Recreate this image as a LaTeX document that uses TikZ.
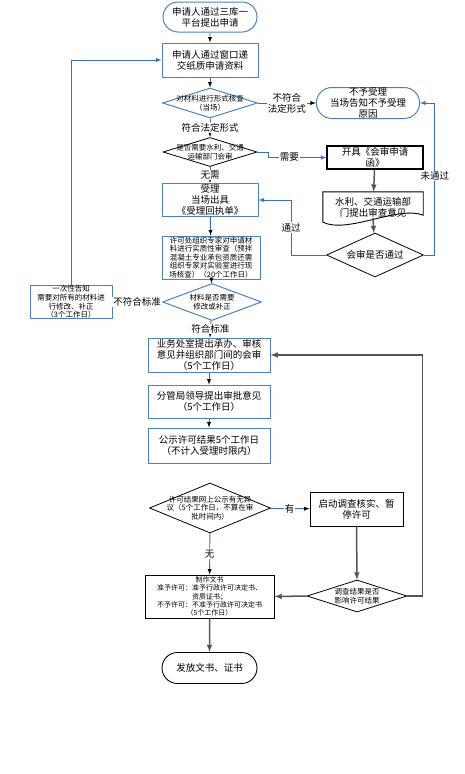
\documentclass[tikz,border=0pt]{standalone}
\usepackage{fontspec}
\setmainfont{Noto Sans CJK SC}
\usetikzlibrary{positioning}
\usetikzlibrary{calc}
\usetikzlibrary{shapes.geometric,shapes.misc}

\definecolor{lineblue}{HTML}{3A6FC0}
\definecolor{boxblue}{HTML}{4F81BD}
\definecolor{flowgray}{HTML}{555555}

\newcommand{\mainsize}{\fontsize{9.5}{11}\selectfont}
\newcommand{\smallsize}{\fontsize{7.5}{8.6}\selectfont}
\newcommand{\tinysize}{\fontsize{7}{8.2}\selectfont}

\begin{document}
\begin{tikzpicture}[x=1pt,y=-1pt,
  bluebox/.style={draw=boxblue,line width=1pt,rectangle,inner sep=0pt,align=center,font=\mainsize},
  blackbox/.style={draw=black,line width=0.9pt,rectangle,inner sep=0pt,align=center,font=\mainsize},
  blueoval/.style={draw=boxblue,line width=1pt,rounded rectangle,inner sep=0pt,align=center,font=\mainsize},
  blackoval/.style={draw=black,line width=0.9pt,rounded rectangle,inner sep=0pt,align=center,font=\mainsize},
  decide/.style={draw=black,line width=0.8pt,diamond,inner sep=0pt},
  bluedecide/.style={decide,draw=boxblue,line width=1pt},
  blueline/.style={draw=lineblue,line width=0.9pt},
  grayline/.style={draw=flowgray,line width=1.5pt},
  lbl/.style={fill=white,inner sep=1pt,align=center,font=\mainsize},
]
\useasboundingbox (0,0) rectangle (465,774);

% upper part
\node[blueoval,minimum width=94,minimum height=30](start) at (210,17){申请人通过三库一\\平台提出申请};
\node[bluebox,minimum width=96,minimum height=34](submit) at (210,60){申请人通过窗口递\\交纸质申请资料};
\node[bluedecide,minimum width=95,minimum height=30,
  label={[font=\smallsize,align=center]center:对材料进行形式核查\\（当场）}](check1) at (210,103){};
\node[blueoval,minimum width=97,minimum height=31](reject) at (368,103){不予受理\\当场告知不予受理\\原因};
\node[decide,minimum width=94,minimum height=29,
  label={[font=\smallsize,align=center]center:是否需要水利、交通\\运输部门会审}](check2) at (210,152){};
\node[blackbox,line width=1.2pt,minimum width=96,minimum height=23](letter) at (375,157.5){开具《会审申请\\函》};
\node[minimum width=100,minimum height=30,inner sep=0pt,align=center,font=\mainsize](opinion) at (373,207){水利、交通运输部\\门提出审查意见};
\draw[black,line width=0.9pt] (opinion.south west) -- (opinion.north west) -- (opinion.north east)
  -- ($(opinion.south east)+(0,-7)$) .. controls ($(opinion.south east)+(-25,-17)$) and ($(opinion.south west)+(25,12)$) .. (opinion.south west);
\node[decide,minimum width=97,minimum height=44,
  label={[font=\mainsize]center:会审是否通过}](meet) at (375,255){};
\node[bluebox,minimum width=96,minimum height=33](accept) at (210,200){受理\\当场出具\\《受理回执单》};
\node[bluebox,minimum width=98,minimum height=43,font=\smallsize](review) at (211,257.5){许可处组织专家对申请材\\料进行实质性审查（预拌\\混凝土专业承包资质还需\\组织专家对实验室进行现\\场核查）（20个工作日）};
\node[bluedecide,minimum width=99,minimum height=37,
  label={[font=\smallsize,align=center]center:材料是否需要\\修改或补正}](check3) at (212,302){};
\node[bluebox,minimum width=82,minimum height=32,font=\smallsize](notify) at (71,302){一次性告知\\需要对所有的材料进\\行修改、补正\\（3个工作日）};

% lower part
\node[bluebox,minimum width=122,minimum height=34](dept) at (209,355){业务处室提出承办、审核\\意见并组织部门间的会审\\（5个工作日）};
\node[bluebox,minimum width=122,minimum height=33](leader) at (209,401.5){分管局领导提出审批意见\\（5个工作日）};
\node[bluebox,minimum width=122,minimum height=35](publish) at (209,445.5){公示许可结果5个工作日\\（不计入受理时限内）};
\node[decide,minimum width=121,minimum height=50,
  label={[font=\smallsize,align=center]center:许可结果网上公示有无异\\议（5个工作日，不算在审\\批时间内）}](check4) at (210,508){};
\node[blackbox,minimum width=93,minimum height=34](investigate) at (356.5,509){启动调查核实、暂\\停许可};
\node[decide,minimum width=100,minimum height=32,
  label={[font=\smallsize,align=center]center:调查结果是否\\影响许可结果}](check5) at (357,596){};
\node[blackbox,minimum width=129,minimum height=43,font=\tinysize](make) at (209.5,596.5){制作文书\\准予许可：准予行政许可决定书、\\资质证书；\\不予许可：不准予行政许可决定书\\（5个工作日）};
\node[blackoval,minimum width=95,minimum height=31](issue) at (209.5,668){发放文书、证书};

% connectors
\path[blueline]
(start) edge[-latex] (submit)
(submit) edge[-latex] (check1)
(check1) edge[-latex] node[lbl]{不符合\\法定形式} (reject)
(check1) edge[-latex] node[lbl]{符合法定形式} (check2)
(check2) edge[-latex] node[lbl]{无需} (accept)
(accept) edge[-latex] (review)
(review) edge[-latex] (check3)
(check3) edge[-latex] node[lbl]{不符合标准} (notify)
(check3) edge[-latex] node[lbl]{符合标准} (dept)
(dept) edge[-latex] (leader)
(leader) edge[-latex] (publish)
(check4) edge[-latex] node[lbl]{有} (investigate)
(check4) edge[-latex] node[lbl]{无} (make);

\draw[blueline,-latex] (check2.east) -- ++(11,0) |- (letter.west) node[lbl,pos=0.68]{需要};
\draw[blueline,-latex] (meet.west) -- ++(-35,0) |- (accept.east) node[lbl,pos=0.25]{通过};
\draw[blueline,-latex] (meet.east) -- ++(11,0) |- (reject.east) node[lbl,pos=0.26]{未通过};
\draw[blueline,-latex] (notify.north) |- (submit.west);

\draw[grayline,-latex] (letter) -- (opinion);
\draw[grayline,-latex] ($(opinion.south)+(0,-4)$) -- (meet);
\draw[grayline,-latex] (investigate) -- (check5);
\draw[grayline,-latex] (check5.west) -- (make.east);
\draw[grayline,-latex] (check5.east) -- ++(15,0) |- (dept.east);
\draw[grayline,-latex] (make) -- (issue);
\end{tikzpicture}
\end{document}
